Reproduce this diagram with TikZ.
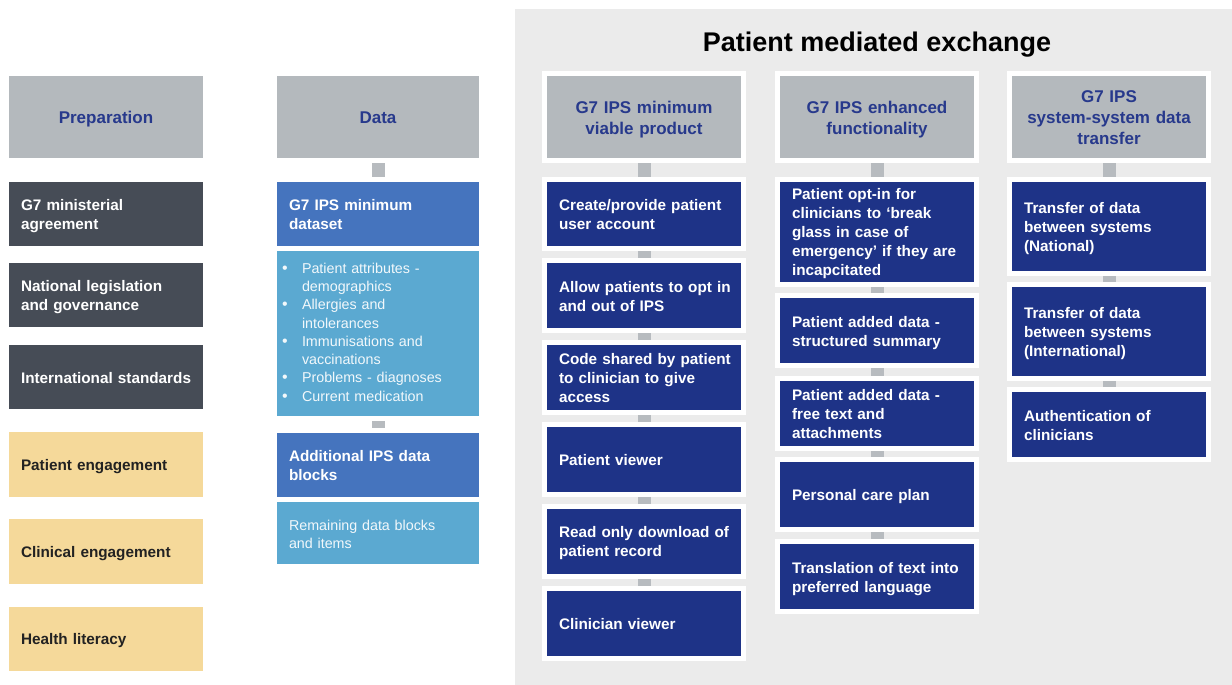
\documentclass[tikz,border=0pt]{standalone}
\usepackage{fontspec}
\setmainfont{Liberation Sans}
\pgfdeclarelayer{bglayer}
\pgfdeclarelayer{connlayer}
\pgfsetlayers{bglayer,connlayer,main}
\definecolor{bggray}{HTML}{EBEBEB}
\definecolor{hdrgray}{HTML}{B4B9BD}
\definecolor{hdrtext}{HTML}{27398C}
\definecolor{slate}{HTML}{464C56}
\definecolor{sand}{HTML}{F5D99A}
\definecolor{midblue}{HTML}{4574BE}
\definecolor{skyblue}{HTML}{5BA9D1}
\definecolor{navy}{HTML}{1E3387}
\definecolor{conngray}{HTML}{B7BBBF}
\definecolor{darktext}{HTML}{222222}
\newcommand{\bfont}{\fontsize{15.3}{19}\selectfont\bfseries}
\newcommand{\hfont}{\fontsize{17}{21}\selectfont\bfseries}
\newcommand{\boxlines}[1]{\raisebox{-2.5pt}[\height][\depth]{\begin{tabular}{@{}l@{}}#1\end{tabular}}}
\newcommand{\hdrlines}[1]{\raisebox{-2.5pt}[\height][\depth]{\begin{tabular}{@{}c@{}}#1\end{tabular}}}
\begin{document}
\begin{tikzpicture}[x=1pt,y=-1pt,
  boxbase/.style={rectangle, inner sep=0pt, inner xsep=12pt, align=left,
    preaction={draw=white, line width=10pt}},
  wA/.style={minimum width=194pt, text width=170pt},
  wB/.style={minimum width=202pt, text width=178pt},
  hdrbox/.style={boxbase, fill=hdrgray, text=hdrtext, align=center, font=\hfont},
  slatebox/.style={boxbase, fill=slate, text=white, font=\bfont},
  sandbox/.style={boxbase, fill=sand, text=darktext, font=\bfont},
  midbox/.style={boxbase, fill=midblue, text=white, font=\bfont},
  skybox/.style={boxbase, fill=skyblue, text=white!92!skyblue,
    font=\fontsize{14.3}{18.3}\selectfont},
  navybox/.style={boxbase, fill=navy, text=white, font=\bfont},
  conn/.style={draw=conngray, line width=13pt}
]
\useasboundingbox (0,0) rectangle (1232,685);
\begin{pgfonlayer}{bglayer}
  \fill[white] (0,0) rectangle (1232,685);
  \fill[bggray] (515,9.5) rectangle (1232,685);
\end{pgfonlayer}

\node[font=\fontsize{27}{30}\selectfont\bfseries, anchor=base] (title) at (877,51.5) {Patient mediated exchange};

% Preparation column
\node[hdrbox, wA, minimum height=82pt] (prep) at (106,117) {\hdrlines{Preparation}};
\node[slatebox, wA, minimum height=64pt] (p1) at (106,214) {\boxlines{G7 ministerial\\agreement}};
\node[slatebox, wA, minimum height=64pt] (p2) at (106,295) {\boxlines{National legislation\\and governance}};
\node[slatebox, wA, minimum height=64pt] (p3) at (106,377) {\boxlines{International standards}};
\node[sandbox, wA, minimum height=65pt] (p4) at (106,464) {\boxlines{Patient engagement}};
\node[sandbox, wA, minimum height=65pt] (p5) at (106,551.5) {\boxlines{Clinical engagement}};
\node[sandbox, wA, minimum height=64pt] (p6) at (106,638.5) {\boxlines{Health literacy}};

% Data column
\node[hdrbox, wB, minimum height=82pt] (data) at (378,117) {\hdrlines{Data}};
\node[midbox, wB, minimum height=64pt] (d1) at (378,214) {\boxlines{G7 IPS minimum\\dataset}};
\node[skybox, wB, minimum height=165pt, inner xsep=5pt, text width=192pt] (d2) at (378,333.5) {%
  \begin{tabular}{@{}p{15pt}@{\hspace{5pt}}l@{}}
  {\fontsize{16}{18}\selectfont\textbullet} & Patient attributes -\\
   & demographics\\
  {\fontsize{16}{18}\selectfont\textbullet} & Allergies and\\
   & intolerances\\
  {\fontsize{16}{18}\selectfont\textbullet} & Immunisations and\\
   & vaccinations\\
  {\fontsize{16}{18}\selectfont\textbullet} & Problems - diagnoses\\
  {\fontsize{16}{18}\selectfont\textbullet} & Current medication
  \end{tabular}};
\node[midbox, wB, minimum height=65pt] (d3) at (378,465) {\boxlines{Additional IPS data\\blocks}};
\node[skybox, wB, minimum height=62pt] (d4) at (378,533) {\boxlines{Remaining data blocks\\and items}};

% Column 1: minimum viable product
\node[hdrbox, wA, minimum height=81pt] (m0) at (644,117) {\hdrlines{G7 IPS minimum\\viable product}};
\node[navybox, wA, minimum height=64pt] (m1) at (644,214) {\boxlines{Create/provide patient\\user account}};
\node[navybox, wA, minimum height=65pt] (m2) at (644,295.5) {\boxlines{Allow patients to opt in\\and out of IPS}};
\node[navybox, wA, minimum height=65pt] (m3) at (644,377.5) {\boxlines{Code shared by patient\\to clinician to give\\access}};
\node[navybox, wA, minimum height=65pt] (m4) at (644,459.5) {\boxlines{Patient viewer}};
\node[navybox, wA, minimum height=65pt] (m5) at (644,541) {\boxlines{Read only download of\\patient record}};
\node[navybox, wA, minimum height=65pt] (m6) at (644,623) {\boxlines{Clinician viewer}};

% Column 2: enhanced functionality
\node[hdrbox, wA, minimum height=81pt] (e0) at (877,117) {\hdrlines{G7 IPS enhanced\\functionality}};
\node[navybox, wA, minimum height=100pt] (e1) at (877,231.5) {\boxlines{Patient opt-in for\\clinicians to `break\\glass in case of\\emergency' if they are\\incapcitated}};
\node[navybox, wA, minimum height=65pt] (e2) at (877,330.5) {\boxlines{Patient added data -\\structured summary}};
\node[navybox, wA, minimum height=65pt] (e3) at (877,413) {\boxlines{Patient added data -\\free text and\\attachments}};
\node[navybox, wA, minimum height=65pt] (e4) at (877,494.5) {\boxlines{Personal care plan}};
\node[navybox, wA, minimum height=65pt] (e5) at (877,576.5) {\boxlines{Translation of text into\\preferred language}};

% Column 3: system-system data transfer
\node[hdrbox, wA, minimum height=82pt] (s0) at (1109,117) {\hdrlines{G7 IPS\\system-system data\\transfer}};
\node[navybox, wA, minimum height=89pt] (s1) at (1109,226.5) {\boxlines{Transfer of data\\between systems\\(National)}};
\node[navybox, wA, minimum height=89pt] (s2) at (1109,331.5) {\boxlines{Transfer of data\\between systems\\(International)}};
\node[navybox, wA, minimum height=65pt] (s3) at (1109,424.5) {\boxlines{Authentication of\\clinicians}};

% connectors
\begin{pgfonlayer}{connlayer}
  \draw[conn] (data.south) -- (d1.north);
  \draw[conn] (d2.south) -- (d3.north);
  \foreach \a/\b in {m0/m1,m1/m2,m2/m3,m3/m4,m4/m5,m5/m6,
                     e0/e1,e1/e2,e2/e3,e3/e4,e4/e5,
                     s0/s1,s1/s2,s2/s3}
    \draw[conn] (\a.south) -- (\b.north);
\end{pgfonlayer}
\end{tikzpicture}
\end{document}
